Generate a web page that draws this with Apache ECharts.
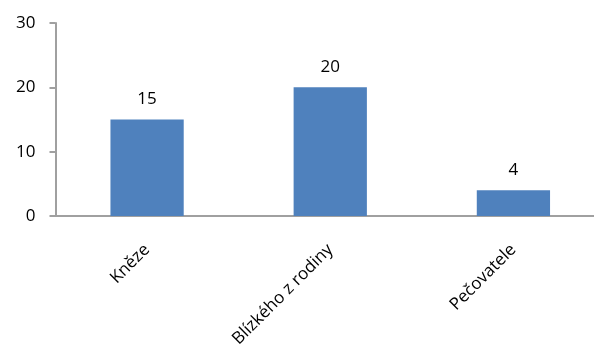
<!DOCTYPE html>
<html>
<head>
<meta charset="utf-8">
<script src="https://cdn.jsdelivr.net/npm/echarts@6/dist/echarts.min.js"></script>
<style>
  html, body { margin: 0; padding: 0; background: #fff; overflow: hidden; }
  /* the original axis runs past the right edge of the picture */
  #chart { width: 605px; height: 353px; }
</style>
</head>
<body>
<div id="chart"></div>
<script>
const categories = ['Kněze', 'Blízkého z rodiny', 'Pečovatele'];
const values = [15, 20, 4];
const yTicks = [0, 10, 20, 30];

const chart = echarts.init(document.getElementById('chart'));

const option = {
    animation: false,
    grid: {
        left: 55.5,
        right: 0,
        top: 23,
        bottom: 137,
        containLabel: false
    },
    xAxis: {
        type: 'category',
        data: categories,
        axisLine: {lineStyle: {color: '#a0a0a0', width: 2}},
        axisTick: {show: false},
        axisLabel: {
            rotate: 45,
            margin: 31,
            color: '#000',
            fontFamily: 'Open Sans',
            fontSize: 17
        }
    },
    yAxis: {
        type: 'value',
        min: yTicks[0],
        max: yTicks[yTicks.length - 1],
        interval: 10,
        axisLine: {show: true, lineStyle: {color: '#a0a0a0', width: 2}},
        axisTick: {show: true, length: 6, lineStyle: {color: '#a0a0a0', width: 2}},
        splitLine: {show: false},
        axisLabel: {
            margin: 20,
            color: '#000',
            fontFamily: 'Open Sans',
            fontSize: 17
        }
    },
    series: [
        {
            type: 'bar',
            data: values,
            barWidth: '40%',
            itemStyle: {color: '#4f81bd'},
            label: {
                show: true,
                position: 'top',
                distance: 12,
                color: '#000',
                fontFamily: 'Open Sans',
                fontSize: 17
            }
        }
    ]
};

chart.setOption(option);
</script>
</body>
</html>
